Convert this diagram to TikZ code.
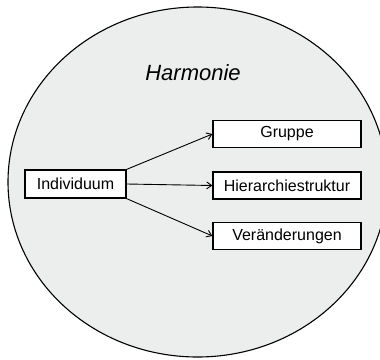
\documentclass[tikz,border=0pt]{standalone}
\usepackage{fontspec}
\setmainfont{Liberation Sans}
\usetikzlibrary{arrows.meta}
\definecolor{bgfill}{HTML}{ECEDED}
\tikzset{
  box/.style={draw=black, line width=1.2pt, fill=white, inner sep=0pt, font=\fontsize{16}{18}\selectfont, minimum height=27pt},
  conn/.style={draw=black, line width=0.9pt, -{Straight Barb[length=5pt,width=7pt]}},
}
\begin{document}
\begin{tikzpicture}[x=1pt,y=-1pt]
\useasboundingbox (0,0) rectangle (380,359);
\clip (0,0) rectangle (380,359);
\draw[fill=bgfill, line width=1.1pt] (197.6,182) ellipse [x radius=189.6pt, y radius=175pt];
\node[font=\fontsize{22}{24}\selectfont\itshape] (harm) at (193,73) {Harmonie};
\node[box, minimum width=101pt, minimum height=28pt] (ind) at (75.5,184) {Individuum};
\node[box, minimum width=148pt] (grp) at (287,134) {Gruppe};
\node[box, minimum width=148pt] (hier) at (287,185.5) {Hierarchiestruktur};
\node[box, minimum width=148pt] (ver) at (287,236) {Veränderungen};
\draw[conn] (ind.north east) -- (grp.west);
\draw[conn] (ind.east) -- (hier.west);
\draw[conn] (ind.south east) -- (ver.west);
\end{tikzpicture}
\end{document}
